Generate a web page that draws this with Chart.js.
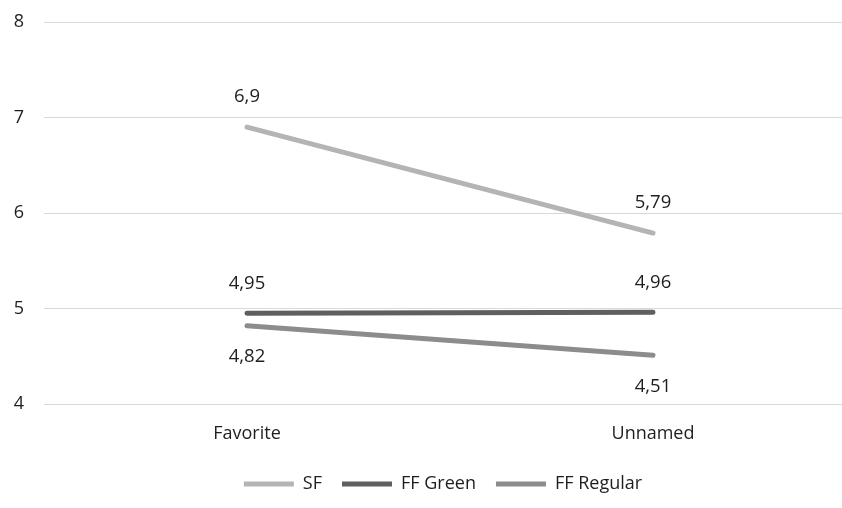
<!DOCTYPE html>
<html><head><meta charset="utf-8">
<script src="https://cdn.jsdelivr.net/npm/chart.js@4/dist/chart.umd.min.js"></script>
<style>
html,body{margin:0;padding:0;background:#fff;overflow:hidden;width:842px;height:508px;}
#wrap{width:856px;height:508px;position:relative;}
</style></head><body>
<div id="wrap"><canvas id="c"></canvas></div>
<script>
const categories = ["Favorite", "Unnamed"];
const seriesNames = ["SF", "FF Green", "FF Regular"];
const sfValues = [6.9, 5.79];
const ffGreenValues = [4.95, 4.96];
const ffRegularValues = [4.82, 4.51];
const yTicks = [4, 5, 6, 7, 8];
const labelPositions = ["above", "above", "below"];
const colors = ["#b4b4b4", "#5f5f5f", "#8c8c8c"];
const FONT = "'Open Sans', sans-serif";
const TEXT = "#1e1e1e";

const fmt = v => String(v).replace('.', ',');

const dataLabels = {
  id: 'dataLabels',
  afterDatasetsDraw(chart) {
    const ctx = chart.ctx;
    ctx.save();
    ctx.font = "18.5px " + FONT;
    ctx.fillStyle = TEXT;
    ctx.textAlign = "center";
    ctx.textBaseline = "middle";
    chart.data.datasets.forEach((ds, i) => {
      const meta = chart.getDatasetMeta(i);
      meta.data.forEach((pt, j) => {
        const off = labelPositions[i] === "above" ? -30 : 31;
        ctx.fillText(fmt(ds.data[j]), pt.x, pt.y + off);
      });
    });
    ctx.restore();
  }
};
const shiftLegend = {
  id: 'shiftLegend',
  afterLayout(chart) {
    if (chart.legend) { chart.legend.left += 15; chart.legend.right += 15; }
  }
};

new Chart(document.getElementById('c'), {
  type: 'line',
  data: {
    labels: categories,
    datasets: [sfValues, ffGreenValues, ffRegularValues].map((d, i) => ({
      label: seriesNames[i],
      data: d,
      borderColor: colors[i],
      backgroundColor: colors[i],
      borderWidth: 5,
      borderCapStyle: 'round',
      pointRadius: 0,
      pointHoverRadius: 0,
      fill: false,
      tension: 0
    }))
  },
  options: {
    responsive: true,
    maintainAspectRatio: false,
    animation: false,
    layout: { padding: { top: 22, right: 0, bottom: 5, left: 0 } },
    scales: {
      x: {
        offset: true,
        grid: { display: false, drawTicks: false },
        border: { display: false },
        ticks: { font: { family: FONT, size: 18 }, color: TEXT, padding: 19 },
        afterFit(s) { s.height = 51; }
      },
      y: {
        min: 4, max: 8,
        afterBuildTicks(s) { s.ticks = yTicks.map(v => ({ value: v })); },
        grid: { color: "#d9d9d9", lineWidth: 1, drawTicks: false },
        border: { display: false },
        ticks: { font: { family: FONT, size: 18 }, color: TEXT, padding: 20 },
        afterFit(s) { s.width = 44; s.paddingTop = 0; s.paddingBottom = 0; }
      }
    },
    plugins: {
      legend: {
        position: 'bottom',
        labels: {
          usePointStyle: true,
          pointStyle: 'line',
          pointStyleWidth: 50,
          font: { family: FONT, size: 18 },
          color: TEXT,
          padding: 20
        }
      },
      tooltip: { enabled: false }
    }
  },
  plugins: [dataLabels, shiftLegend]
});
</script>
</body></html>
